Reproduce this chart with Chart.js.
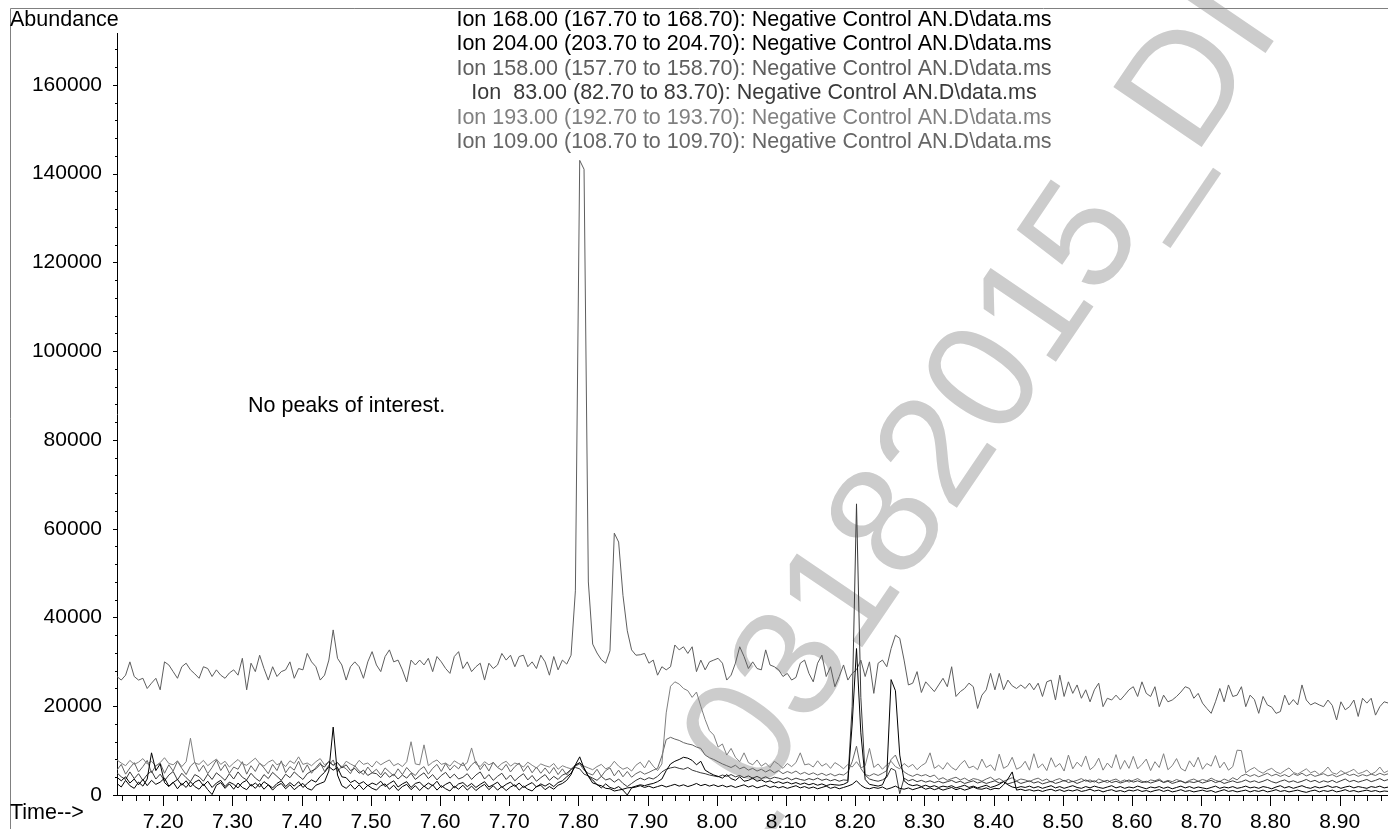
<!DOCTYPE html>
<html>
<head>
<meta charset="utf-8">
<script src="https://cdn.jsdelivr.net/npm/chart.js@4.4.1/dist/chart.umd.min.js"></script>
<style>
  html, body { margin: 0; padding: 0; background: #fff; }
  #tic { display: block; }
</style>
</head>
<body>
<canvas id="tic" width="1388" height="829"></canvas>
<script>
// scan times: one value per scan, first scan at scanStart, scanStep min apart
const scanStart = 7.133;
const scanStep = 0.00625;
const xMin = 7.1331, xMax = 8.9698;
const yMax = 171700;
const xTickValues = [7.2, 7.3, 7.4, 7.5, 7.6, 7.7, 7.8, 7.9, 8.0, 8.1, 8.2, 8.3, 8.4, 8.5, 8.6, 8.7, 8.8, 8.9];
const yTickValues = [0, 20000, 40000, 60000, 80000, 100000, 120000, 140000, 160000];

// Ion 158 - the high trace with the 7.81 min peaks
const ion158 = [
  26700, 25900, 27000, 30000, 26700, 25900, 26300, 24000, 25200, 26300,
  23700, 30000, 29300, 27800, 26300, 28900, 29700, 28200, 27300, 26300,
  28900, 28500, 26700, 28200, 27000, 26300, 27500, 28200, 27000, 30800,
  23700, 29700, 27800, 31500, 28500, 25900, 28900, 26700, 27800, 28200,
  30000, 26300, 28500, 28200, 31900, 30000, 28900, 25900, 27000, 30400,
  37200, 30800, 29300, 25900, 28900, 30000, 28900, 26300, 30000, 32300,
  29300, 27800, 31200, 32700, 30000, 30400, 28200, 25500, 30400, 29300,
  30400, 29300, 30800, 27800, 31200, 30000, 28500, 27400, 31200, 32300,
  28500, 30000, 27800, 28900, 29700, 25900, 29700, 28500, 29300, 31900,
  30400, 31500, 28900, 31200, 31500, 28900, 30000, 28500, 31500, 30000,
  27000, 31200, 28200, 30400, 29500, 31500, 46000, 143000, 141000, 48000,
  34000, 32000, 30500, 29700, 32500, 59000, 57000, 45000, 37000, 32700,
  31500, 31600, 31900, 29700, 30400, 27000, 28900, 28200, 28900, 33800,
  32700, 33400, 31900, 33400, 27800, 30400, 28200, 30000, 30400, 30800,
  29700, 25900, 27000, 29700, 33400, 31200, 28500, 30000, 28500, 28200,
  32700, 29300, 28900, 28200, 26700, 27400, 25900, 26500, 29700, 30400,
  27400, 25500, 29700, 31500, 26700, 28900, 24400, 26700, 29300, 25900,
  27400, 28200, 30400, 26700, 30000, 22900, 29700, 30400, 28900, 33000,
  36000, 35300, 30400, 24800, 25200, 27800, 23100, 25500, 24400, 23300,
  24800, 26300, 24400, 28900, 22200, 23300, 24000, 25200, 24400, 19500,
  22500, 23700, 27400, 23700, 27400, 23700, 25900, 24600, 24000, 24800,
  24000, 25200, 23700, 25200, 22200, 25500, 25900, 21400, 27000, 22200,
  25500, 22900, 24800, 21800, 23700, 21000, 23700, 25200, 19900, 21800,
  21400, 22500, 21400, 22500, 23700, 24400, 22200, 25500, 22900, 22200,
  24400, 19900, 22500, 21000, 21400, 22200, 23200, 24400, 24000, 21800,
  22900, 20700, 19500, 18400, 21000, 24000, 21000, 24800, 22200, 22500,
  24400, 19900, 22500, 21500, 18400, 22200, 20300, 19800, 18400, 18800,
  22500, 20300, 21500, 20300, 24800, 21400, 20300, 20800, 20300, 19900,
  21400, 20200, 16900, 21000, 19200, 19900, 21400, 17700, 21800, 20700,
  21800, 18000, 19900, 21000, 20700
];

const ion193 = [
  7900, 7200, 6600, 7800, 6900, 7400, 8200, 7000, 7600, 6500,
  7300, 8400, 7100, 6800, 7700, 6400, 7500, 12800, 7200, 6900,
  7800, 6600, 7400, 8100, 6900, 7600, 6300, 7200, 8000, 7000,
  6700, 7500, 8300, 7100, 6500, 7400, 7900, 6800, 7300, 6400,
  7700, 7100, 8600, 6900, 7200, 6600, 7500, 8200, 6800, 7400,
  6700, 7300, 6200, 7600, 7000, 6500, 7800, 6900, 7200, 6300,
  7600, 6800, 7400, 7900, 6600, 7100, 6400, 7500, 12000, 7000,
  6800, 11300, 6600, 7400, 7900, 6900, 7200, 6500, 7700, 7100,
  6600, 7300, 10600, 7000, 6400, 7500, 6800, 7300, 6200, 7100,
  7600, 6500, 7200, 6900, 6300, 7400, 6700, 6100, 7000, 6600,
  6300, 7100, 5800, 6600, 6200, 5900, 6800, 7200, 6500, 6100,
  5700, 6400, 6900, 5900, 6300, 7600, 6500, 5800, 6200, 5400,
  6700, 7400, 6100, 7800, 6500, 5500, 7000, 18500, 24500, 25500,
  25000, 24000, 23500, 22000, 23200, 20000, 17000, 14500, 13500, 10800,
  11500, 9000, 10500, 8500, 7500, 9500, 7300, 6800, 7900, 6500,
  7200, 6200, 7600, 6900, 6000, 7100, 6400, 7300, 9500, 6800,
  7000, 6300, 7700, 6500, 7100, 6000, 7300, 6700, 5900, 6900,
  6300, 7500, 6100, 6600, 10500, 6200, 7000, 5800, 6800, 7600,
  6400, 5900, 7100, 6300, 6900, 5700, 6600, 7200, 9500, 6000,
  6700, 5800, 7300, 6200, 5600, 6900, 7800, 6100, 6500, 5700,
  8100, 6200, 6800, 5500, 9200, 6000, 6600, 8500, 5800, 6300,
  7600, 5600, 9300, 6100, 7000, 5500, 8400, 6300, 7100, 5400,
  9000, 5900, 7400, 6400, 8800, 5700, 6500, 8300, 5600, 7200,
  6100, 9100, 5800, 7800, 6000, 8700, 5900, 6900, 8100, 5500,
  7500, 6200, 9300, 5700, 6600, 8200, 6000, 5400, 7700, 6300,
  8500, 5800, 7100, 6500, 8900, 6100, 7400, 5600, 6400, 10100,
  10000, 5000, 5700, 6200, 5400, 4900, 5600, 6000, 5200, 4800,
  5500, 6100, 5100, 4700, 5300, 5900, 5000, 5400, 4600, 5200,
  6300, 5000, 4700, 5500, 4900, 5300, 5800, 4800, 5100, 5600,
  4700, 5200, 6300, 5000, 5500
];

const ion109 = [
  5600, 6900, 4700, 6100, 7300, 5200, 6400, 7800, 5000, 6600,
  7200, 4900, 6800, 5400, 7600, 6000, 4600, 6500, 7400, 5300,
  6700, 4800, 6200, 7900, 5500, 6900, 4900, 6300, 5800, 7500,
  4700, 6600, 5300, 7200, 6100, 4800, 6900, 5500, 7700, 5000,
  6400, 5600, 7600, 5100, 6800, 4900, 6200, 7300, 5300, 6700,
  7900, 5200, 6500, 5900, 4800, 6600, 5400, 4600, 6300, 5000,
  5800, 4500, 6100, 5200, 4300, 5900, 4600, 6200, 5100, 4400,
  5700, 6400, 4700, 6000, 6900, 5300, 7100, 5600, 6700, 5900,
  7300, 5500, 6800, 7600, 5700, 7000, 5400, 7400, 6200, 5600,
  6900, 5200, 6400, 7200, 5300, 6600, 5000, 6300, 4900, 6100,
  4800, 6200, 4600, 5900, 4500, 5700, 6500, 7000, 5600, 4900,
  4500, 5800, 4200, 5500, 6100, 4300, 5600, 4100, 5300, 4000,
  4800, 5300, 4700, 5100, 5600, 6000, 8800, 12500, 13000, 12600,
  12300, 11800, 11500, 11300, 10800, 10500, 9000, 8400, 8000, 7500,
  7000, 6600, 6200, 6700, 5900, 6300, 5600, 6000, 5400, 5800,
  5200, 5700, 5000, 5500, 4800, 5300, 4900, 5400, 4700, 5100,
  4600, 5000, 4500, 4900, 4400, 4800, 4300, 4700, 4500, 5200,
  7500, 11000, 6000, 4600, 4300, 4800, 4400, 4900, 5500, 8000,
  9000, 6500, 5200, 4600, 4200, 4700, 4300, 4600, 4100, 4500,
  3500, 3900, 3300, 3700, 4000, 3400, 3800, 3200, 3700, 3500,
  3100, 3600, 4000, 3300, 3700, 3100, 3500, 3900, 3200, 3600,
  3400, 3000, 3500, 3800, 3200, 3600, 2900, 3400, 3700, 3100,
  3500, 3000, 3300, 3700, 3100, 3400, 2900, 3600, 3200, 2800,
  3300, 3600, 3000, 3400, 2900, 3300, 3700, 3100, 2800, 3400,
  3200, 3600, 2900, 3300, 3000, 3500, 3100, 2800, 3300, 3600,
  3100, 3500, 3200, 3800, 3300, 3000, 3600, 3200, 3900, 3400,
  4300, 4700, 4200, 4600, 4100, 4500, 4900, 4300, 4700, 4200,
  4600, 4100, 4800, 4400, 4900, 4300, 4700, 4200, 4500, 4800,
  4300, 4600, 4100, 4500, 4900, 4400, 4700, 4200, 4600, 4300,
  4700, 4400, 4900, 4500, 4800
];

const ion83 = [
  5000, 4100, 3500, 5200, 3700, 4800, 3300, 4600, 5400, 3600,
  4700, 3200, 4500, 5300, 3400, 4900, 3900, 3000, 4600, 4100,
  3100, 4700, 3500, 5000, 4200, 3300, 4800, 3600, 5200, 4000,
  3400, 4900, 3800, 3100, 4600, 3700, 5100, 4200, 3300, 4700,
  3900, 5200, 4300, 3500, 4800, 5400, 5900, 6900, 6300, 7600,
  6700, 7300, 6100, 6800, 5500, 6000, 4900, 5600, 4400, 5000,
  4800, 3900, 5100, 4000, 4700, 3600, 4500, 3800, 4900, 3500,
  4300, 5000, 3700, 4600, 3400, 4400, 5100, 3800, 4700, 3600,
  4000, 4800, 3500, 4500, 5200, 3600, 4600, 3300, 4200, 4900,
  3500, 4500, 3200, 4100, 4800, 3400, 4400, 3100, 3900, 4600,
  3300, 4200, 3500, 4500, 4900, 5800, 6200, 5900, 4700, 4300,
  3800, 3300, 4200, 3400, 3700, 2900, 3600, 2600, 1900, 2600,
  3300, 3800, 3400, 3900, 3600, 4200, 5200, 5800, 6100, 6300,
  6000, 5800, 6200, 5600, 5300, 5000, 4800, 4500, 4300, 4100,
  4500, 4200, 4600, 4100, 4400, 3900, 4300, 3800, 4200, 3700,
  4100, 3600, 4000, 3800, 3500, 3900, 3400, 3800, 3500, 3300,
  3700, 3400, 3800, 3300, 3600, 3200, 3500, 3100, 3400, 3300,
  20000, 65600, 22000, 4500, 3600, 3300, 3100, 3400, 4000, 6000,
  5500, 300, 3800, 3200, 3500, 3000, 3300, 2900, 3200, 2800,
  3100, 2700, 3000, 3300, 2800, 3100, 2600, 2900, 3200, 2700,
  3000, 2600, 2900, 3200, 2700, 3000, 2500, 2800, 3100, 2600,
  2900, 3200, 2700, 3000, 2500, 2800, 3100, 2600, 2900, 3300,
  2800, 3100, 2600, 3000, 3400, 2900, 3200, 2700, 3000, 3300,
  2800, 3100, 2700, 3000, 3400, 2900, 3200, 2800, 3100, 2700,
  3000, 3300, 2800, 3100, 2600, 2900, 3200, 2700, 3000, 2800,
  3100, 2700, 3000, 3300, 2800, 3100, 2600, 2900, 3200, 2800,
  3000, 3400, 2900, 3200, 2800, 3100, 3500, 3000, 2700, 3100,
  3400, 2900, 3200, 2800, 3100, 3500, 3000, 3300, 2800, 3200,
  2900, 3300, 2800, 3200, 3600, 3000, 3300, 2900, 3200, 3500,
  3000, 3300, 3700, 3200, 3500
];

const ion168 = [
  4000, 3200, 4100, 2700, 3600, 2300, 3500, 2100, 3300, 2400,
  2900, 3800, 2000, 2800, 3500, 2200, 3200, 1800, 2900, 3400,
  2100, 3100, 1700, 2700, 3300, 1900, 2900, 2400, 1600, 2800,
  3300, 2000, 2700, 1800, 3000, 2300, 1600, 2600, 3200, 1900,
  2800, 2000, 3000, 1700, 2600, 3400, 2900, 4200, 5100, 6400,
  5600, 6200, 4100, 3900, 2800, 3300, 2500, 3000, 2100, 2700,
  2300, 3100, 1900, 2600, 3200, 1800, 2500, 3000, 1700, 2600,
  2900, 1900, 2700, 2100, 3100, 1700, 2400, 2900, 1600, 2500,
  2800, 1900, 2600, 1700, 2400, 3000, 1800, 2300, 2900, 1700,
  2400, 2900, 1900, 2700, 1700, 2300, 2800, 1800, 2500, 2000,
  2600, 1900, 2800, 3200, 4100, 4900, 6700, 7300, 6100, 4200,
  3400, 2300, 2100, 1500, 1400, 900, 1100, 1300, 1600, 1700,
  2000, 2300, 2100, 2400, 2600, 3000, 3600, 5500, 7000, 7600,
  8000, 8500, 8300, 7800, 6800, 7600, 5600, 5000, 4500, 4200,
  3800, 4600, 3700, 3300, 4100, 3100, 3300, 3800, 3100, 3400,
  2900, 3200, 2700, 3000, 2600, 2900, 2500, 2800, 2400, 2700,
  2300, 2600, 2200, 2500, 2100, 2400, 2300, 2200, 2400, 2900,
  16000, 33000, 14000, 3500, 2400, 2200, 2000, 2300, 4500, 26000,
  23500, 9000, 3200, 2400, 2100, 2300, 1900, 2200, 1800, 2100,
  1700, 2000, 1800, 2100, 1600, 1900, 2200, 1700, 2000, 1600,
  1900, 2200, 1700, 2000, 2400, 3000, 2300, 1800, 1600, 1900,
  1700, 2000, 1600, 1900, 1500, 1800, 2100, 1600, 1900, 1500,
  1800, 2100, 1700, 1500, 1900, 1600, 2000, 1700, 1500, 1800,
  2100, 1600, 1900, 1500, 1800, 1600, 2000, 1700, 1400, 1800,
  1600, 1900, 1500, 1800, 1400, 1700, 2000, 1600, 1900, 1500,
  1800, 1600, 1400, 1700, 2000, 1500, 1800, 1600, 1900, 1500,
  1700, 2000, 1600, 1800, 1500, 1900, 1700, 1400, 1800, 2100,
  1600, 1900, 1500, 1800, 2100, 1700, 1500, 1900, 1600, 1800,
  2100, 1700, 1900, 1500, 1800, 2000, 1600, 1900, 1700, 1500,
  1900, 1700, 2000, 1600, 1800
];

const ion204 = [
  2600, 1800, 3300, 2100, 1500, 2900, 2000, 3600, 9500, 5500,
  7000, 2800, 1900, 2900, 1400, 2600, 1700, 3000, 1900, 1300,
  2500, 1200, 100, 2200, 2800, 1500, 2500, 1300, 2700, 1700,
  1200, 2400, 1500, 2600, 1300, 2300, 1100, 2100, 2600, 1400,
  2300, 1200, 2000, 2600, 1500, 1100, 2200, 2600, 3000, 5400,
  15300, 4500, 2100, 1500, 2400, 1300, 2300, 1200, 2200, 1500,
  1100, 2100, 2500, 1300, 2200, 1000, 1900, 2400, 1200, 2100,
  1000, 2000, 1300, 2300, 1100, 2100, 1400, 900, 2000, 1300,
  2200, 1100, 2000, 1000, 1800, 2400, 1200, 2100, 1100, 1900,
  1000, 1800, 2300, 1100, 2000, 1300, 900, 1900, 2200, 1200,
  1900, 1300, 2200, 2600, 3300, 4600, 6800, 8600, 6000, 4200,
  2700, 2400, 1600, 2500, 1700, 1400, 1900, 1100, 0, 1600,
  1800, 2100, 1700, 2000, 1600, 1900, 2200, 1800, 2100, 2400,
  2000, 2300, 1900, 2200, 2600, 2100, 2400, 2000, 2300, 1900,
  2200, 1800, 2100, 1700, 2000, 2300, 1800, 2100, 1600, 1900,
  2200, 1700, 2000, 1600, 1900, 1500, 1800, 2100, 1600, 1900,
  1500, 1800, 1400, 1700, 2000, 1500, 1800, 1400, 1700, 2000,
  2400, 3200, 2200, 1600, 1400, 1700, 1500, 1800, 1300, 1600,
  2000, 1500, 1300, 1600, 1200, 1500, 1800, 1300, 1600, 1200,
  1500, 1100, 1400, 1700, 1200, 1500, 1100, 1400, 1800, 1400,
  1300, 1600, 1200, 1500, 1400, 2300, 3600, 5200, 1100, 1300,
  1000, 1200, 900, 1100, 800, 1100, 1300, 900, 1200, 800,
  1100, 900, 1200, 800, 1000, 1300, 900, 1100, 700, 1000,
  1200, 800, 1000, 700, 1100, 900, 1200, 800, 1000, 700,
  1000, 1200, 800, 1100, 700, 900, 1200, 800, 1000, 700,
  900, 1100, 800, 1000, 600, 900, 1200, 800, 1000, 700,
  900, 1100, 700, 1000, 800, 1100, 700, 900, 1200, 800,
  1000, 700, 900, 1100, 800, 600, 900, 1100, 700, 1000,
  800, 1100, 700, 900, 1200, 800, 1000, 700, 900, 1100,
  800, 1000, 700, 900, 800
];

const ionLabels = [
  'Ion 168.00 (167.70 to 168.70): Negative Control AN.D\\data.ms',
  'Ion 204.00 (203.70 to 204.70): Negative Control AN.D\\data.ms',
  'Ion 158.00 (157.70 to 158.70): Negative Control AN.D\\data.ms',
  'Ion  83.00 (82.70 to 83.70): Negative Control AN.D\\data.ms',
  'Ion 193.00 (192.70 to 193.70): Negative Control AN.D\\data.ms',
  'Ion 109.00 (108.70 to 109.70): Negative Control AN.D\\data.ms'
];
const ionSeries = [ion168, ion204, ion158, ion83, ion193, ion109];
const ionColors = ['#000000', '#000000', '#5e5e5e', '#3a3a3a', '#808080', '#666666'];
const noteText = 'No peaks of interest.';
const wmText = '0_03182015_DI';

const FONT = '"Liberation Sans", Arial, Helvetica, sans-serif';

const chromPlugin = {
  id: 'chrom',
  beforeDraw(chart) {
    const ctx = chart.ctx;
    ctx.save();
    ctx.fillStyle = '#fff';
    ctx.fillRect(0, 0, chart.width, chart.height);

    // watermark: fit the text so that two of its glyphs land where they sit in the scan
    const [i0, x0, y0] = [2, 737, 733];   // the "0" of "03"
    const [i1, x1, y1] = [11, 1180, 80];  // the "D"
    const centreAt = k => ctx.measureText(wmText.slice(0, k)).width + ctx.measureText(wmText[k]).width / 2;
    ctx.font = '100px ' + FONT;
    const d100 = centreAt(i1) - centreAt(i0);
    const size = 100 * Math.hypot(x1 - x0, y1 - y0) / d100;
    const ang = Math.atan2(y1 - y0, x1 - x0);
    ctx.font = size.toFixed(1) + 'px ' + FONT;
    const a0 = centreAt(i0);
    const cap = 0.716 * size;
    const bx = Math.cos(ang), by = Math.sin(ang);
    const ux = Math.sin(ang), uy = -Math.cos(ang);
    const ox = x0 - bx * a0 - ux * cap / 2;
    const oy = y0 - by * a0 - uy * cap / 2;
    ctx.translate(ox, oy);
    ctx.rotate(ang);
    ctx.fillStyle = '#cccccc';
    ctx.textAlign = 'left';
    ctx.textBaseline = 'alphabetic';
    ctx.fillText(wmText, 0, 0);
    ctx.restore();
  },
  afterDraw(chart) {
    const {ctx, chartArea: ca, scales: {x, y}} = chart;
    ctx.save();
    // outer frame
    ctx.strokeStyle = '#808080';
    ctx.lineWidth = 1;
    ctx.beginPath();
    ctx.moveTo(10.5, 829);
    ctx.lineTo(10.5, 8.5);
    ctx.lineTo(1388, 8.5);
    ctx.stroke();

    // tick marks, major and minor
    ctx.strokeStyle = '#000';
    ctx.beginPath();
    for (let k = Math.ceil(x.min / 0.02); k * 0.02 <= x.max; k++) {
      const px = Math.round(x.getPixelForValue(k * 0.02)) + 0.5;
      const len = k % 5 === 0 ? 11 : 6;
      ctx.moveTo(px, ca.bottom);
      ctx.lineTo(px, ca.bottom + len);
    }
    for (let k = 0; k * 4000 <= y.max; k++) {
      const py = Math.round(y.getPixelForValue(k * 4000)) + 0.5;
      const len = k % 5 === 0 ? 4 : 2;
      ctx.moveTo(ca.left - len, py);
      ctx.lineTo(ca.left, py);
    }
    ctx.stroke();

    // texts
    ctx.font = '21.5px ' + FONT;
    ctx.textBaseline = 'middle';
    ctx.textAlign = 'left';
    ctx.fillStyle = '#000';
    ctx.fillText('Abundance', 10, 20);
    ctx.fillText('Time-->', 10, 813);
    ctx.fillText(noteText, 248, 406);
    ctx.textAlign = 'center';
    ionLabels.forEach((t, i) => {
      ctx.fillStyle = ionColors[i];
      ctx.fillText(t, 754, 20 + i * 24.5);
    });
    ctx.restore();
  }
};

const ctx = document.getElementById('tic');
const ticChart = new Chart(ctx, {
  type: 'line',
  data: {
    datasets: ionSeries.map((arr, i) => ({
      label: ionLabels[i],
      data: arr.map((v, j) => ({ x: scanStart + j * scanStep, y: v })),
      borderColor: ionColors[i],
      borderWidth: 1,
      pointRadius: 0,
      tension: 0,
      fill: false
    }))
  },
  options: {
    responsive: false,
    animation: false,
    devicePixelRatio: 1,
    events: [],
    parsing: false,
    normalized: true,
    layout: { padding: { top: 33, left: 0, right: 0, bottom: 0 } },
    plugins: {
      legend: { display: false },
      tooltip: { enabled: false },
      title: { display: false }
    },
    scales: {
      x: {
        type: 'linear',
        min: xMin,
        max: xMax,
        afterFit(s) { s.height = 34; },
        afterBuildTicks(s) { s.ticks = xTickValues.map(v => ({ value: v })); },
        grid: { display: false },
        border: { display: true, color: '#000', width: 1 },
        ticks: {
          autoSkip: false,
          maxRotation: 0,
          padding: 7,
          color: '#000',
          font: { family: FONT, size: 21 },
          callback: v => v.toFixed(2)
        }
      },
      y: {
        min: 0,
        max: yMax,
        afterFit(s) { s.width = 117; },
        afterBuildTicks(s) { s.ticks = yTickValues.map(v => ({ value: v })); },
        grid: { display: false },
        border: { display: true, color: '#000', width: 1 },
        ticks: {
          autoSkip: false,
          padding: 7,
          color: '#000',
          font: { family: FONT, size: 21 },
          callback: v => String(v)
        }
      }
    }
  },
  plugins: [chromPlugin]
});
</script>
</body>
</html>
